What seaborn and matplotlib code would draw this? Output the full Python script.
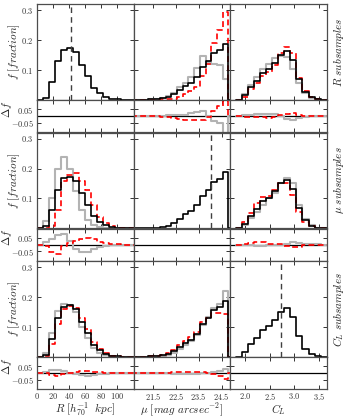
import numpy as np
import pandas as pd
import seaborn as sns
import matplotlib
matplotlib.use("Agg")
import matplotlib.pyplot as plt

# bin edges of the three quantities
r_edges = [0, 7.5, 15, 22.5, 30, 37.5, 45, 52.5, 60, 67.5, 75, 82.5, 90, 97.5, 105, 112.5, 120]
mu_edges = [20.55, 20.8, 21.05, 21.3, 21.55, 21.8, 22.05, 22.3, 22.55, 22.8, 23.05, 23.3,
            23.55, 23.8, 24.05, 24.3, 24.55, 24.8, 25.05]
c_edges = [1.81, 1.93, 2.05, 2.175, 2.30, 2.42, 2.545, 2.67, 2.79, 2.915, 3.04, 3.16,
           3.285, 3.41, 3.53, 3.655]

# full sample (black)
r_all = [0, 0.008, 0.061, 0.130, 0.167, 0.172, 0.159, 0.117, 0.080, 0.041, 0.022, 0.011, 0.004, 0.002, 0.001, 0]
mu_all = [0, 0, 0.001, 0.002, 0.003, 0.006, 0.009, 0.019, 0.032, 0.047, 0.058, 0.077, 0.110, 0.129,
          0.156, 0.166, 0.188, 0]
c_all = [0, 0.016, 0.042, 0.064, 0.090, 0.103, 0.124, 0.151, 0.163, 0.133, 0.070, 0.027, 0.009, 0.002, 0]

# R subsamples (gray = small, red = large)
mu_rsub_gray = [0, 0, 0.001, 0.002, 0.004, 0.007, 0.013, 0.025, 0.042, 0.056, 0.076, 0.106, 0.147,
                0.128, 0.120, 0.117, 0.069, 0]
mu_rsub_red = [0, 0, 0, 0, 0.001, 0.002, 0.003, 0.005, 0.010, 0.020, 0.030, 0.045, 0.080, 0.120,
               0.190, 0.235, 0.295, 0]
c_rsub_gray = [0, 0.020, 0.050, 0.078, 0.105, 0.120, 0.140, 0.148, 0.145, 0.105, 0.058, 0.022, 0.007, 0.002, 0]
c_rsub_red = [0, 0.011, 0.036, 0.058, 0.080, 0.092, 0.118, 0.158, 0.178, 0.158, 0.075, 0.030, 0.010, 0.002, 0]

# mu subsamples
r_musub_gray = [0, 0.024, 0.102, 0.200, 0.240, 0.197, 0.124, 0.063, 0.028, 0.011, 0.004, 0.002, 0.001, 0, 0, 0]
r_musub_red = [0, 0, 0.008, 0.063, 0.158, 0.180, 0.185, 0.158, 0.127, 0.077, 0.039, 0.019, 0.008, 0.003, 0.001, 0]
c_musub_gray = [0, 0.012, 0.035, 0.055, 0.080, 0.100, 0.120, 0.150, 0.168, 0.152, 0.080, 0.032, 0.012, 0.003, 0]
c_musub_red = [0, 0.020, 0.050, 0.085, 0.105, 0.108, 0.130, 0.152, 0.150, 0.112, 0.055, 0.022, 0.008, 0.002, 0]

# C_L subsamples
r_csub_gray = [0, 0.012, 0.080, 0.155, 0.178, 0.175, 0.150, 0.100, 0.062, 0.030, 0.015, 0.007, 0.003, 0.001, 0, 0]
r_csub_red = [0, 0.005, 0.045, 0.110, 0.160, 0.170, 0.165, 0.130, 0.095, 0.050, 0.027, 0.013, 0.005, 0.002, 0, 0]
mu_csub_gray = [0, 0, 0.001, 0.002, 0.003, 0.005, 0.007, 0.015, 0.026, 0.040, 0.052, 0.072, 0.108, 0.132,
                0.162, 0.178, 0.220, 0]
mu_csub_red = [0, 0, 0.001, 0.002, 0.004, 0.007, 0.012, 0.024, 0.040, 0.055, 0.066, 0.084, 0.118, 0.130,
               0.148, 0.148, 0.145, 0]

# split values (dashed lines)
r_split = 42.5
mu_split = 24.05
c_split = 2.72

edges = [r_edges, mu_edges, c_edges]
full = [r_all, mu_all, c_all]
splits = [r_split, mu_split, c_split]
subs = {
    (0, 1): (mu_rsub_gray, mu_rsub_red), (0, 2): (c_rsub_gray, c_rsub_red),
    (1, 0): (r_musub_gray, r_musub_red), (1, 2): (c_musub_gray, c_musub_red),
    (2, 0): (r_csub_gray, r_csub_red), (2, 1): (mu_csub_gray, mu_csub_red),
}
xlims = [(0, 120), (20.65, 24.87), (1.69, 3.65)]
xticks = [[0, 20, 40, 60, 80, 100], [21.5, 22.5, 23.5, 24.5], [2.0, 2.5, 3.0, 3.5]]
xticklabels = [["$0$", "$20$", "$40$", "$60$", "$80$", "$100$"],
               ["$21.5$", "$22.5$", "$23.5$", "$24.5$"],
               ["$2.0$", "$2.5$", "$3.0$", "$3.5$"]]
xlabels = [r"$R\ [h_{70}^{-1}\ \ kpc]$", r"$\mu\ [mag\ arcsec^{-2}]$", r"$C_L$"]
rowlabels = [r"$R\ subsamples$", r"$\mu\ subsamples$", r"$C_L\ subsamples$"]

sns.set_style("ticks")
plt.rcParams.update({
    "font.family": ["DejaVu Serif"],
    "mathtext.fontset": "cm",
    "xtick.direction": "in", "ytick.direction": "in",
    "xtick.top": True, "ytick.right": True,
    "xtick.major.size": 3, "ytick.major.size": 3,
    "xtick.major.width": 0.7, "ytick.major.width": 0.7,
    "xtick.major.pad": 1.5, "ytick.major.pad": 2.5,
    "axes.linewidth": 0.9, "axes.edgecolor": "0.3",
    "xtick.color": "0.2", "ytick.color": "0.2",
})

W, H = 347, 420
fig = plt.figure(figsize=(W / 100, H / 100), dpi=100)
col_x = [37, 133.5, 230]
col_w = 96.5
row_top = [4, 132.5, 261]
main_h = 96
res_h = 32


def rect(x, y, w, h):
    return [x / W, 1 - (y + h) / H, w / W, h / H]


def step(ax, edg, vals, **kw):
    edg = [float(e) for e in edg]
    centers = [(a + b) / 2 for a, b in zip(edg[:-1], edg[1:])]
    df = pd.DataFrame({"x": centers, "w": [float(v) for v in vals]})
    sns.histplot(data=df, x="x", weights="w", bins=edg, element="step", fill=False, ax=ax, **kw)


gray = "#b3b3b3"
for i in range(3):
    for j in range(3):
        ax = fig.add_axes(rect(col_x[j], row_top[i], col_w, main_h))
        rax = fig.add_axes(rect(col_x[j], row_top[i] + main_h, col_w, res_h))
        rax.axhline(0, color="k", lw=0.9, zorder=1)
        if (i, j) in subs:
            g, r = subs[(i, j)]
            step(ax, edges[j], g, color=gray, lw=1.5)
            step(ax, edges[j], r, color="red", lw=1.2, linestyle=(0, (3.5, 2)))
            step(rax, edges[j], np.array(g) - np.array(full[j]), color=gray, lw=1.5)
            step(rax, edges[j], np.array(r) - np.array(full[j]), color="red", lw=1.2,
                 linestyle=(0, (3.5, 2)))
        step(ax, edges[j], full[j], color="k", lw=1.2)
        if i == j:
            ax.axvline(splits[j], color="0.25", lw=1.0, linestyle=(0, (4, 3)))

        for a in (ax, rax):
            a.set_xlim(*xlims[j])
            a.set_xticks(xticks[j])
            a.set_xlabel("")
            a.set_ylabel("")
            for s in a.spines.values():
                s.set_visible(True)
        ax.set_ylim(0, 0.32)
        ax.set_yticks([0.1, 0.2, 0.3])
        rax.set_ylim(-0.115, 0.115)
        rax.set_yticks([-0.05, 0.05])
        ax.set_xticklabels([])
        if i == 2:
            rax.set_xticklabels(xticklabels[j], fontsize=6)
            rax.set_xlabel(xlabels[j], fontsize=8, labelpad=0)
        else:
            rax.set_xticklabels([])
        if j == 0:
            ax.set_yticklabels(["$0.1$", "$0.2$", "$0.3$"], fontsize=6)
            rax.set_yticklabels([r"$-0.05$", "$0.05$"], fontsize=6)
            ax.set_ylabel(r"$f\ [fraction]$", fontsize=8)
            rax.set_ylabel(r"$\Delta f$", fontsize=8)
            ax.yaxis.set_label_coords(-0.16, 0.5)
            rax.yaxis.set_label_coords(-0.24, 0.72)
        else:
            ax.set_yticklabels([])
            rax.set_yticklabels([])
    fig.text(339 / W, 1 - (row_top[i] + main_h / 2) / H, rowlabels[i], rotation=90,
             ha="center", va="center", fontsize=8)

fig.savefig("out.png", dpi=100)
